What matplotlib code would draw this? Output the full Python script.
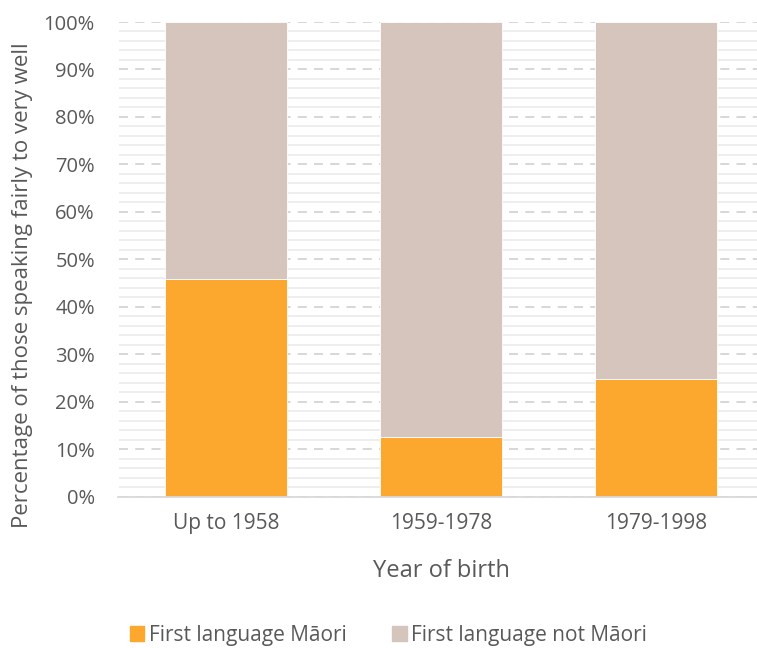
import numpy as np
import matplotlib
matplotlib.use('Agg')
import matplotlib.pyplot as plt
from matplotlib.patches import Patch
from matplotlib.ticker import MultipleLocator, PercentFormatter

plt.rcParams['font.family'] = ['Open Sans', 'DejaVu Sans']

# Data
categories = ['Up to 1958', '1959-1978', '1979-1998']
first_maori = [45.9, 12.6, 24.7]
not_maori = [100 - v for v in first_maori]
series_names = ['First language Māori', 'First language not Māori']

orange = '#FCA72E'
beige = '#D6C5BD'
text_col = '#595959'

fig = plt.figure(figsize=(7.57, 6.48), dpi=100)
W, H = 757, 648
ax = fig.add_axes([118.5 / W, (H - 496.7) / H, 645 / W, (496.7 - 22) / H])

x = np.arange(len(categories))
ax.bar(x, first_maori, width=0.57, color=orange, zorder=3,
       edgecolor='white', linewidth=0.6)
ax.bar(x, not_maori, width=0.57, bottom=first_maori, color=beige, zorder=3,
       edgecolor='white', linewidth=0.6)

ax.set_xlim(-0.5, 2.5)
ax.set_ylim(0, 100)
ax.yaxis.set_major_locator(MultipleLocator(10))
ax.yaxis.set_minor_locator(MultipleLocator(2))
ax.yaxis.set_major_formatter(PercentFormatter(decimals=0))
ax.grid(axis='y', which='minor', color='#ededed', linewidth=1.3, zorder=0)
ax.grid(axis='y', which='major', color='#d4d4d4', linewidth=1.3,
        linestyle=(0, (5, 4)), zorder=1)

ax.set_xticks(x)
ax.set_xticklabels(categories)
ax.tick_params(axis='both', which='both', length=0, labelcolor=text_col)
ax.tick_params(axis='y', pad=17, labelsize=14.5)
ax.tick_params(axis='x', pad=12, labelsize=15)

for s in ['top', 'right', 'left']:
    ax.spines[s].set_visible(False)
ax.spines['bottom'].set_color('#d9d9d9')
ax.spines['bottom'].set_linewidth(1.3)
ax.spines['bottom'].set_zorder(4)

ax.set_xlabel('Year of birth', fontsize=17, color=text_col, labelpad=18)
ax.set_ylabel('Percentage of those speaking fairly to very well', fontsize=16,
              color=text_col, labelpad=4)
ax.yaxis.set_label_coords(-0.133, 0.446)

handles = [Patch(color=orange), Patch(color=beige)]
fig.legend(handles, series_names, loc='center', bbox_to_anchor=(0.513, (H - 635) / H),
           ncol=2, frameon=False, fontsize=15, labelcolor=text_col,
           handlelength=0.7, handleheight=0.7, handletextpad=0.2, columnspacing=2.2)

fig.savefig('out.png', dpi=100)
